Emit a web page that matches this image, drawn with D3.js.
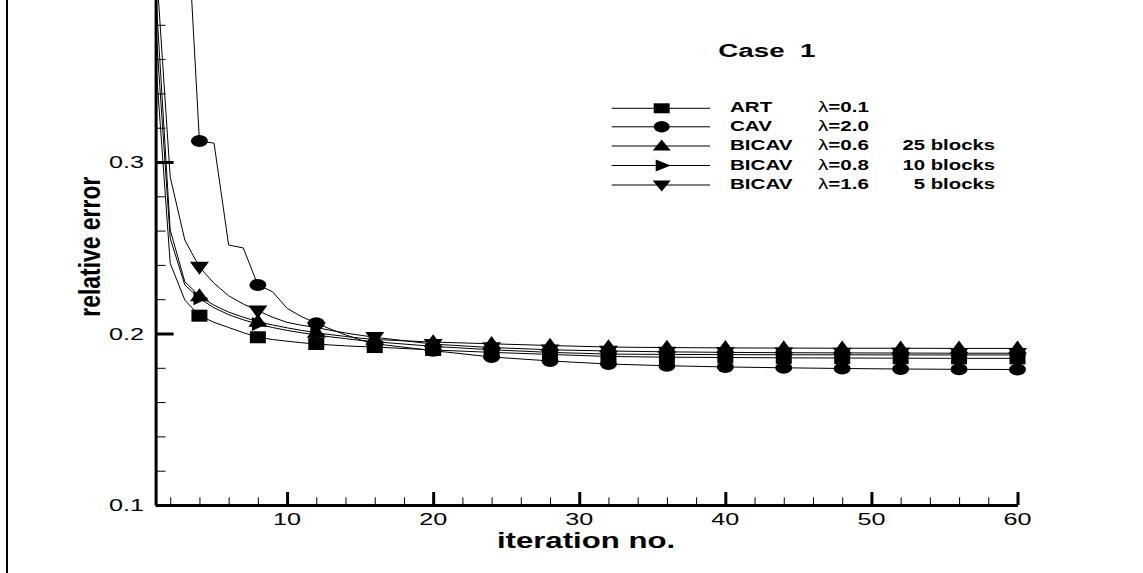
<!DOCTYPE html>
<html><head><meta charset="utf-8">
<script src="https://cdn.jsdelivr.net/npm/d3@7"></script>
<style>
body{margin:0;background:#fff}
svg{display:block}
text{font-family:"Liberation Sans",Arial,Helvetica,sans-serif;fill:#000}
</style>
</head><body>
<svg id="chart" width="1143" height="573"></svg>
<script>
// ---------- data ----------
const iterations = [1,2,3,4,5,6,7,8,9,10,11,12,13,14,15,16,20,24,28,32,36,40,44,48,52,56,60];
const artValues    = [0.360,0.2409,0.2195,0.2104,0.2065,0.2035,0.2005,0.1978,0.1965,0.1955,0.1946,0.1939,0.1933,0.1928,0.1924,0.1921,0.1904,0.1890,0.1878,0.1866,0.1862,0.1860,0.1858,0.1857,0.1856,0.1855,0.1855];
const cavValues    = [0.950,0.650,0.468,0.3122,0.3110,0.2516,0.2499,0.2283,0.2244,0.2147,0.2098,0.2060,0.2025,0.1992,0.1963,0.1940,0.1900,0.1863,0.1840,0.1822,0.1812,0.1805,0.1800,0.1796,0.1793,0.1791,0.1790];
const bicav25Values= [0.400,0.2603,0.2302,0.2219,0.2165,0.2125,0.2095,0.2069,0.2050,0.2033,0.2018,0.2005,0.1993,0.1983,0.1973,0.1965,0.1950,0.1940,0.1930,0.1921,0.1918,0.1916,0.1915,0.1914,0.1914,0.1913,0.1913];
const bicav10Values= [0.380,0.2555,0.2283,0.2205,0.2150,0.2110,0.2080,0.2055,0.2035,0.2018,0.2004,0.1992,0.1980,0.1970,0.1960,0.1952,0.1925,0.1905,0.1890,0.1880,0.1878,0.1877,0.1876,0.1876,0.1875,0.1875,0.1875];
const bicav5Values = [0.420,0.2913,0.2545,0.2388,0.2293,0.2220,0.2172,0.2133,0.2095,0.2065,0.2048,0.2035,0.2018,0.2003,0.1990,0.1978,0.1938,0.1918,0.1905,0.1898,0.1893,0.1890,0.1888,0.1887,0.1886,0.1885,0.1885];

const methodNames = ["ART","CAV","BICAV","BICAV","BICAV"];
const lambdaLabels = ["\u03bb=0.1","\u03bb=2.0","\u03bb=0.6","\u03bb=0.8","\u03bb=1.6"];
const blockLabels = ["","","25 blocks","10 blocks","5 blocks"];
const markerShapes = ["square","circle","triUp","triRight","triDown"];
const markerEvery = 4;

const xMajorTicks = [10,20,30,40,50,60];
const xTickLabels = ["10","20","30","40","50","60"];
const xMinorTicks = [2,4,6,8,12,14,16,18,22,24,26,28,32,34,36,38,42,44,46,48,52,54,56,58];
const yMajorTicks = [0.1,0.2,0.3,0.4];
const yLabelTicks = [0.1,0.2,0.3];
const yTickLabels = ["0.1","0.2","0.3"];
const yMinorTicks = [0.12,0.14,0.16,0.18,0.22,0.24,0.26,0.28,0.32,0.34,0.36,0.38];

const titleText = "Case  1";
const xTitle = "iteration no.";
const yTitle = "relative error";

const seriesValues = [artValues, cavValues, bicav25Values, bicav10Values, bicav5Values];

// ---------- layout ----------
const svg = d3.select("#chart");
const x = d3.scaleLinear().domain([1,60]).range([155.6,1017.5]);
const y = d3.scaleLinear().domain([0.1,0.4]).range([505,-9.5]);
const SX = 1.48; // horizontal stretch of text

// frame line on left
svg.append("line").attr("x1",7).attr("x2",7).attr("y1",0).attr("y2",573)
  .attr("stroke","#000").attr("stroke-width",2);

function shapePath(type,w,h){
  const a=w/2,b=h/2;
  switch(type){
    case "square": return `M${-a},${-b}H${a}V${b}H${-a}Z`;
    case "circle": return `M${-a},0A${a},${b} 0 1,0 ${a},0A${a},${b} 0 1,0 ${-a},0Z`;
    case "triUp": return `M0,${-h*0.6}L${a},${h*0.4}L${-a},${h*0.4}Z`;
    case "triDown": return `M0,${h*0.6}L${a},${-h*0.4}L${-a},${-h*0.4}Z`;
    case "triRight": return `M${w*0.6},0L${-w*0.4},${b}L${-w*0.4},${-b}Z`;
  }
}
const plotSize = {square:[16,12],circle:[17,12],triUp:[19,13],triDown:[19,13],triRight:[15,14]};
const legSize  = {square:[16,10],circle:[16,11.5],triUp:[18,11],triDown:[18,11],triRight:[15,12]};

// ---------- axes ----------
const xAxis = svg.append("g").attr("transform","translate(0,505)")
  .call(d3.axisBottom(x).tickValues(xMajorTicks).tickSize(-13).tickSizeOuter(0).tickFormat(""));
xAxis.select(".domain").attr("stroke-width",3);
xAxis.selectAll(".tick line").attr("stroke-width",3);
const xMinor = svg.append("g").attr("transform","translate(0,505)")
  .call(d3.axisBottom(x).tickValues(xMinorTicks).tickSize(-7.7).tickFormat(""));
xMinor.select(".domain").remove();

const yAxis = svg.append("g").attr("transform","translate(155.6,0)")
  .call(d3.axisLeft(y).tickValues(yMajorTicks).tickSize(-18).tickSizeOuter(0).tickFormat(""));
yAxis.select(".domain").attr("stroke-width",3);
yAxis.selectAll(".tick line").attr("stroke-width",3);
const yMinor = svg.append("g").attr("transform","translate(155.6,0)")
  .call(d3.axisLeft(y).tickValues(yMinorTicks).tickSize(-10).tickFormat(""));
yMinor.select(".domain").remove();

// tick labels
xMajorTicks.forEach((v,i)=>{
  svg.append("text").attr("transform",`translate(${x(v)},525) scale(${SX},1)`)
    .attr("text-anchor","middle").attr("font-size",17).text(xTickLabels[i]);
});
yLabelTicks.forEach((v,i)=>{
  svg.append("text").attr("transform",`translate(144,${y(v)+6.3}) scale(${SX},1)`)
    .attr("text-anchor","end").attr("font-size",17).text(yTickLabels[i]);
});

// axis titles
svg.append("text").attr("transform",`translate(586,548) scale(1.36,1)`)
  .attr("text-anchor","middle").attr("font-size",22.9).attr("font-weight","bold").text(xTitle);
svg.append("text").attr("transform",`translate(100,246.7) scale(1.28,1) rotate(-90)`)
  .attr("text-anchor","middle").attr("font-size",22.9).attr("font-weight","bold").text(yTitle);

// ---------- series ----------
const line = d3.line().x(d=>x(d.i)).y(d=>y(d.v));
const seriesData = seriesValues.map(vals=>iterations.map((it,k)=>({i:it,v:vals[k]})));

svg.append("g").selectAll("path").data(seriesData).join("path")
  .attr("d",line).attr("fill","none").attr("stroke","#000").attr("stroke-width",1);

const drawOrder = [4,3,2,0,1];
drawOrder.forEach(s=>{
  const shp = markerShapes[s];
  const [w,h] = plotSize[shp];
  svg.append("g").selectAll("path")
    .data(seriesData[s].filter(d=>d.i % markerEvery === 0))
    .join("path")
    .attr("transform",d=>`translate(${x(d.i)},${y(d.v)})`)
    .attr("d",shapePath(shp,w,h)).attr("fill","#000");
});

// ---------- legend ----------
svg.append("text").attr("transform",`translate(718.3,56.7) scale(1.5,1)`)
  .attr("font-size",18.5).attr("font-weight","bold").attr("xml:space","preserve")
  .style("white-space","pre").text(titleText);

const legRowY = [108.3,126.8,146,165.5,185];
methodNames.forEach((name,s)=>{
  const cy = legRowY[s];
  svg.append("line").attr("x1",611.7).attr("x2",710).attr("y1",cy).attr("y2",cy)
    .attr("stroke","#000").attr("stroke-width",1);
  const shp = markerShapes[s];
  const [w,h] = legSize[shp];
  svg.append("path").attr("transform",`translate(661.7,${cy})`).attr("d",shapePath(shp,w,h)).attr("fill","#000");
  svg.append("text").attr("transform",`translate(730,${cy+4}) scale(1.47,1)`)
    .attr("font-size",14).attr("font-weight","bold").text(name);
  const lt = svg.append("text").attr("transform",`translate(818,${cy+4}) scale(1.47,1)`)
    .attr("font-size",14).attr("font-weight","bold");
  lt.append("tspan").attr("font-weight","normal").text(lambdaLabels[s].slice(0,1));
  lt.append("tspan").text(lambdaLabels[s].slice(1));
  if(blockLabels[s]){
    svg.append("text").attr("transform",`translate(995,${cy+4}) scale(1.45,1)`)
      .attr("text-anchor","end").attr("font-size",14).attr("font-weight","bold").text(blockLabels[s]);
  }
});
</script>
</body></html>
